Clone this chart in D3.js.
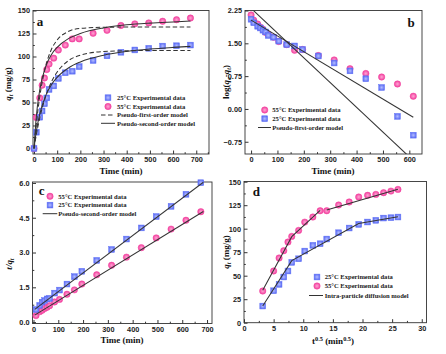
<!DOCTYPE html>
<html>
<head>
<meta charset="utf-8">
<script src="https://cdn.jsdelivr.net/npm/d3@7"></script>
<style>
  body { margin: 0; background: #fff; }
  svg { display: block; font-family: 'Liberation Serif', 'Times New Roman', serif; font-weight: bold; }
</style>
</head>
<body>
<div id="container"></div>
<script>
//### DATA ###
//>>> Contact time (min) and uptake q_t (mg/g)
const timeMin = [ 0, 10, 25, 35, 45, 55, 65, 85, 105, 135, 165, 195, 255, 315, 375, 435, 495, 555, 615, 675 ];
const qt25 = [ 0, 17.7, 34.0, 40.8, 48.6, 55.0, 64.2, 68.0, 76.2, 82.3, 84.0, 89.0, 95.7, 100.7, 104.6, 107.1, 108.9, 111.3, 111.7, 112.4 ];
const qt55 = [ 0, 33.7, 55.0, 68.8, 76.6, 85.8, 91.8, 98.2, 107.0, 112.4, 119.1, 119.1, 125.2, 128.4, 133.7, 135.5, 136.5, 138.3, 140.0, 141.8 ];

//>>> Panel a model curves
const fitTime = [ 0, 10, 25, 50, 75, 100, 150, 200, 300, 400, 500, 600, 675 ];
const pfo25 = [ 0, 14.9, 33.3, 56.3, 72.3, 83.1, 95.7, 101.4, 105.4, 106.2, 106.5, 106.5, 106.5 ];
const pso25 = [ 0, 18.5, 37.5, 57.2, 69.3, 77.4, 87.8, 94.1, 101.4, 105.5, 108.1, 109.9, 111.0 ];
const pfo55 = [ 0, 26.5, 56.6, 88.9, 107.6, 117.9, 127.4, 130.5, 131.8, 132.0, 132.0, 132.0, 132.0 ];
const pso55 = [ 0, 34.8, 64.0, 88.8, 102.0, 110.0, 119.7, 125.0, 131.0, 134.4, 136.3, 137.6, 138.5 ];

//>>> Panel b: log(qe - qt)
const timeLog = [ 0, 10, 25, 35, 45, 55, 65, 85, 105, 135, 165, 195, 255, 315, 375, 435, 495, 555, 615 ];
const log25 = [ 2.05, 1.97, 1.89, 1.85, 1.80, 1.76, 1.68, 1.64, 1.55, 1.47, 1.44, 1.36, 1.21, 1.05, 0.87, 0.69, 0.49, -0.17, -0.60 ];
const log55 = [ 2.15, 2.03, 1.94, 1.87, 1.82, 1.75, 1.70, 1.64, 1.54, 1.47, 1.34, 1.36, 1.22, 1.12, 0.92, 0.81, 0.73, 0.57, 0.29 ];
const logLineT = [ 0, 615 ];
const logLine55 = [ 2.03, -0.19 ];
const logLine25 = [ 2.30, -1.18 ];

//>>> Panel c: t/qt
const timeRatio = [ 10, 25, 35, 45, 55, 65, 85, 105, 135, 165, 195, 255, 315, 375, 435, 495, 555, 615, 675 ];
const ratio25 = [ 0.54, 0.72, 0.86, 0.93, 1.00, 1.02, 1.25, 1.38, 1.64, 1.96, 2.19, 2.66, 3.13, 3.58, 4.06, 4.55, 4.99, 5.51, 6.01 ];
const ratio55 = [ 0.28, 0.45, 0.51, 0.59, 0.64, 0.71, 0.87, 0.98, 1.20, 1.39, 1.64, 2.04, 2.45, 2.80, 3.21, 3.63, 4.01, 4.39, 4.76 ];
const ratioLineT = [ 5, 685 ];
const ratioLine25 = [ 0.55, 6.03 ];
const ratioLine55 = [ 0.30, 4.77 ];

//>>> Panel d: qt vs t^0.5
const sqrtTime = [ 3.16, 5.00, 5.92, 6.71, 7.42, 8.06, 9.22, 10.25, 11.62, 12.85, 13.96, 15.97, 17.75, 19.36, 20.86, 22.25, 23.56, 24.80, 25.98 ];
const ipd25X = [ 3.16, 8.06, 19.36, 25.98 ];
const ipd25Y = [ 17.7, 66.0, 105.5, 112.8 ];
const ipd55aX = [ 3.16, 8.06, 12.85 ];
const ipd55aY = [ 34.5, 91.5, 119.5 ];
const ipd55bX = [ 13.96, 25.98 ];
const ipd55bY = [ 120.0, 142.0 ];

//>>> Legend labels
const legendA = [ '25°C Experimental data', '55°C Experimental data', 'Pseudo-first-order model', 'Pseudo-second-order model' ];
const legendB = [ '55°C Experimental data', '25°C Experimental data', 'Pseudo-first-order model' ];
const legendC = [ '55°C Experimental data', '25°C Experimental data', 'Pseudo-second-order model' ];
const legendD = [ '25°C Experimental data', '55°C Experimental data', 'Intra-particle diffusion model' ];


//### SETUP ###
const width = 446;
const height = 354;
const lineColor = '#333';
const blue = '#5f70f5';
const pink = '#f2409e';

const svg = d3.select( '#container' )
  .append( 'svg' )
  .attr( 'width', width )
  .attr( 'height', height );

//>>> Gradients for the markers
const defs = svg.append( 'defs' );
[ [ 'gradBlue', '#b4bdff', blue ], [ 'gradPink', '#ffa6d4', pink ] ].forEach( ( [ id, c0, c1 ] ) => {
  const g = defs.append( 'radialGradient' ).attr( 'id', id );
  g.append( 'stop' ).attr( 'offset', '0%' ).attr( 'stop-color', c0 );
  g.append( 'stop' ).attr( 'offset', '100%' ).attr( 'stop-color', c1 );
} );

const zip = ( xs, ys ) => xs.map( ( v, i ) => [ v, ys[ i ] ] );

//>>> Text with italic / sub / sup parts
function richText ( sel, parts ) {
  let shift = 0;
  parts.forEach( p => {
    const s = p.sub ? 2 : p.sup ? -3.5 : 0;
    const t = sel.append( 'tspan' ).text( p.t ).attr( 'dy', s - shift );
    if ( p.it ) t.style( 'font-style', 'italic' );
    if ( p.sub || p.sup ) t.style( 'font-size', '0.7em' );
    shift = s;
  } );
}


//### PANEL BUILDER ###
function makePanel ( o ) {
  const b = o.box;
  const g = svg.append( 'g' );
  const x = d3.scaleLinear().domain( o.xDomain ).range( [ b.left, b.right ] );
  const y = d3.scaleLinear().domain( o.yDomain ).range( [ b.bottom, b.top ] );

  //>>> Minor ticks
  g.append( 'g' ).attr( 'transform', `translate(0,${b.bottom})` )
    .call( d3.axisBottom( x ).tickValues( o.xMinor ).tickSize( -1.8 ).tickFormat( '' ) );
  g.append( 'g' ).attr( 'transform', `translate(${b.left},0)` )
    .call( d3.axisLeft( y ).tickValues( o.yMinor ).tickSize( -1.8 ).tickFormat( '' ) );

  //>>> Major ticks
  g.append( 'g' ).attr( 'transform', `translate(0,${b.bottom})` )
    .call( d3.axisBottom( x ).tickValues( o.xTicks ).tickSize( -3.5 ).tickPadding( 3 ).tickFormat( o.xFormat || d3.format( 'd' ) ) );
  g.append( 'g' ).attr( 'transform', `translate(${b.left},0)` )
    .call( d3.axisLeft( y ).tickValues( o.yTicks ).tickSize( -3.5 ).tickPadding( 3 ).tickFormat( o.yFormat || d3.format( 'd' ) ) );

  g.selectAll( '.domain' ).remove();
  g.selectAll( '.tick line' ).attr( 'stroke', lineColor );
  g.selectAll( '.tick text' )
    .attr( 'fill', '#222' )
    .style( 'font-size', '7.3px' );

  //>>> Frame
  g.append( 'rect' )
    .attr( 'x', b.left ).attr( 'y', b.top )
    .attr( 'width', b.right - b.left ).attr( 'height', b.bottom - b.top )
    .attr( 'fill', 'none' ).attr( 'stroke', lineColor ).attr( 'stroke-width', 0.9 );

  //>>> Panel letter
  g.append( 'text' )
    .attr( 'x', o.letter[ 1 ] ).attr( 'y', o.letter[ 2 ] )
    .attr( 'text-anchor', 'middle' ).attr( 'dominant-baseline', 'central' )
    .style( 'font-size', '13px' ).attr( 'fill', '#111' )
    .text( o.letter[ 0 ] );

  //>>> Axis titles
  const xt = g.append( 'text' )
    .attr( 'x', o.xTitlePos[ 0 ] ).attr( 'y', o.xTitlePos[ 1 ] )
    .attr( 'text-anchor', 'middle' ).style( 'font-size', '9px' ).attr( 'fill', '#111' );
  richText( xt, o.xTitle );
  const yt = g.append( 'text' )
    .attr( 'transform', `translate(${o.yTitlePos[ 0 ]},${o.yTitlePos[ 1 ]}) rotate(-90)` )
    .attr( 'text-anchor', 'middle' ).style( 'font-size', '9px' ).attr( 'fill', '#111' );
  richText( yt, o.yTitle );

  return { g, x, y, box: b };
}

function drawMarkers ( p, pts, kind ) {
  const sel = p.g.append( 'g' );
  if ( kind === 'circle' ) {
    sel.selectAll( 'circle' ).data( pts ).enter().append( 'circle' )
      .attr( 'cx', d => p.x( d[ 0 ] ) ).attr( 'cy', d => p.y( d[ 1 ] ) )
      .attr( 'r', 3.2 )
      .attr( 'fill', 'url(#gradPink)' ).attr( 'stroke', pink ).attr( 'stroke-width', 0.5 );
  } else {
    sel.selectAll( 'rect' ).data( pts ).enter().append( 'rect' )
      .attr( 'x', d => p.x( d[ 0 ] ) - 2.9 ).attr( 'y', d => p.y( d[ 1 ] ) - 2.9 )
      .attr( 'width', 5.8 ).attr( 'height', 5.8 )
      .attr( 'fill', 'url(#gradBlue)' ).attr( 'stroke', blue ).attr( 'stroke-width', 0.5 );
  }
}

function drawLegend ( p, labels, kinds, lg ) {
  const g = p.g.append( 'g' );
  labels.forEach( ( label, i ) => {
    const yy = lg.rows[ i ];
    const k = kinds[ i ];
    if ( k === 'circle' ) {
      g.append( 'circle' ).attr( 'cx', lg.mark ).attr( 'cy', yy ).attr( 'r', 3.2 )
        .attr( 'fill', 'url(#gradPink)' ).attr( 'stroke', pink ).attr( 'stroke-width', 0.5 );
    } else if ( k === 'square' ) {
      g.append( 'rect' ).attr( 'x', lg.mark - 2.9 ).attr( 'y', yy - 2.9 ).attr( 'width', 5.8 ).attr( 'height', 5.8 )
        .attr( 'fill', 'url(#gradBlue)' ).attr( 'stroke', blue ).attr( 'stroke-width', 0.5 );
    } else {
      g.append( 'line' ).attr( 'x1', lg.line[ 0 ] ).attr( 'x2', lg.line[ 1 ] ).attr( 'y1', yy ).attr( 'y2', yy )
        .attr( 'stroke', lineColor ).attr( 'stroke-width', 1 )
        .attr( 'stroke-dasharray', k === 'dash' ? '4.5,2.5' : 'none' );
    }
    g.append( 'text' ).attr( 'x', lg.text ).attr( 'y', yy ).attr( 'dy', '0.35em' )
      .style( 'font-size', '6.6px' ).attr( 'fill', '#222' ).text( label );
  } );
}


//### BUILD THE FOUR FRAMES ###
const timeTitle = [ { t: 'Time (min)' } ];
const qtTitle = [ { t: 'q', it: true }, { t: 't', it: true, sub: true }, { t: ' (mg/g)' } ];

const pa = makePanel( {
  box: { left: 33, right: 209, top: 10.5, bottom: 154 },
  xDomain: [ -4.3, 755 ], yDomain: [ -6, 150 ],
  xTicks: d3.range( 0, 701, 100 ), xMinor: d3.range( 50, 751, 100 ),
  yTicks: d3.range( 0, 151, 25 ), yMinor: d3.range( 12.5, 150, 25 ),
  letter: [ 'a', 40, 21 ], xTitlePos: [ 121, 174 ], yTitlePos: [ 11, 84 ],
  xTitle: timeTitle, yTitle: qtTitle
} );

const pb = makePanel( {
  box: { left: 245, right: 422, top: 10.5, bottom: 154 },
  xDomain: [ -23, 648 ], yDomain: [ -1.03, 2.25 ],
  xTicks: d3.range( 0, 601, 100 ), xMinor: d3.range( 50, 641, 100 ),
  yTicks: [ -0.75, 0, 0.75, 1.5, 2.25 ], yMinor: [ -0.375, 0.375, 1.125, 1.875 ],
  yFormat: d3.format( '.2f' ),
  letter: [ 'b', 411, 22 ], xTitlePos: [ 333, 174 ], yTitlePos: [ 229, 82 ],
  xTitle: timeTitle,
  yTitle: [ { t: 'log(' }, { t: 'q', it: true }, { t: 'e', it: true, sub: true }, { t: '-' },
    { t: 'q', it: true }, { t: 't', it: true, sub: true }, { t: ')' } ]
} );

const pc = makePanel( {
  box: { left: 32.5, right: 212, top: 182, bottom: 323.5 },
  xDomain: [ -4, 720 ], yDomain: [ -0.06, 6.04 ],
  xTicks: d3.range( 0, 701, 100 ), xMinor: d3.range( 50, 701, 100 ),
  yTicks: [ 0, 1.5, 3, 4.5, 6 ], yMinor: [ 0.75, 2.25, 3.75, 5.25 ],
  yFormat: d3.format( '.1f' ),
  letter: [ 'c', 41.7, 190 ], xTitlePos: [ 122, 343 ], yTitlePos: [ 12, 264 ],
  xTitle: timeTitle,
  yTitle: [ { t: 't/q', it: true }, { t: 't', it: true, sub: true } ]
} );

const pd = makePanel( {
  box: { left: 244, right: 426.5, top: 181.5, bottom: 322.7 },
  xDomain: [ 0, 30.8 ], yDomain: [ 0, 150.2 ],
  xTicks: d3.range( 0, 31, 5 ), xMinor: d3.range( 2.5, 30, 5 ),
  yTicks: d3.range( 0, 151, 25 ), yMinor: d3.range( 12.5, 150, 25 ),
  letter: [ 'd', 256.3, 191 ], xTitlePos: [ 333, 344 ], yTitlePos: [ 229, 252 ],
  xTitle: [ { t: 't' }, { t: '0.5', sup: true }, { t: ' (min' }, { t: '0.5', sup: true }, { t: ')' } ],
  yTitle: qtTitle
} );


//### MARKERS ###
drawMarkers( pa, zip( timeMin, qt55 ), 'circle' );
drawMarkers( pa, zip( timeMin, qt25 ), 'square' );
drawMarkers( pb, zip( timeLog, log55 ), 'circle' );
drawMarkers( pb, zip( timeLog, log25 ), 'square' );
drawMarkers( pc, zip( timeRatio, ratio55 ), 'circle' );
drawMarkers( pc, zip( timeRatio, ratio25 ), 'square' );
drawMarkers( pd, zip( sqrtTime, qt55.slice( 1 ) ), 'circle' );
drawMarkers( pd, zip( sqrtTime, qt25.slice( 1 ) ), 'square' );


//### LEGENDS ###
drawLegend( pa, legendA, [ 'square', 'circle', 'dash', 'solid' ],
  { mark: 108, text: 117, line: [ 101, 115 ], rows: [ 97.7, 106.5, 115, 123.3 ] } );
drawLegend( pb, legendB, [ 'circle', 'square', 'solid' ],
  { mark: 264.7, text: 272.3, line: [ 258, 271 ], rows: [ 110, 118.7, 127.5 ] } );
drawLegend( pc, legendC, [ 'circle', 'square', 'solid' ],
  { mark: 50, text: 58.3, line: [ 42.7, 57.3 ], rows: [ 196.3, 205.1, 213.7 ] } );
drawLegend( pd, legendD, [ 'square', 'circle', 'solid' ],
  { mark: 317, text: 324.7, line: [ 309, 323 ], rows: [ 277, 286, 295.5 ] } );


//### MODEL LINES (top layer) ###
//>>> Each entry: panel, points, dashed?, smooth?
const modelLines = [
  [ pa, zip( fitTime, pfo25 ), true, true ],
  [ pa, zip( fitTime, pfo55 ), true, true ],
  [ pa, zip( fitTime, pso25 ), false, true ],
  [ pa, zip( fitTime, pso55 ), false, true ],
  [ pb, zip( logLineT, logLine55 ), false, false ],
  [ pb, zip( logLineT, logLine25 ), false, false ],
  [ pc, zip( ratioLineT, ratioLine25 ), false, false ],
  [ pc, zip( ratioLineT, ratioLine55 ), false, false ],
  [ pd, zip( ipd25X, ipd25Y ), false, false ],
  [ pd, zip( ipd55aX, ipd55aY ), false, false ],
  [ pd, zip( ipd55bX, ipd55bY ), false, false ]
];

//>>> One clip rect per panel so the steep fit in b stops at the frame
[ pa, pb, pc, pd ].forEach( ( p, i ) => {
  defs.append( 'clipPath' ).attr( 'id', 'frame' + i )
    .append( 'rect' )
    .attr( 'x', p.box.left ).attr( 'y', p.box.top )
    .attr( 'width', p.box.right - p.box.left ).attr( 'height', p.box.bottom - p.box.top );
  p.clipId = 'frame' + i;
} );

const lineLayer = svg.append( 'g' ).attr( 'class', 'model-lines' );
modelLines.forEach( ( [ p, pts, dashed, smooth ] ) => {
  const line = d3.line()
    .x( d => p.x( d[ 0 ] ) ).y( d => p.y( d[ 1 ] ) )
    .curve( smooth ? d3.curveMonotoneX : d3.curveLinear );
  lineLayer.append( 'g' ).attr( 'clip-path', `url(#${p.clipId})` )
    .append( 'path' )
    .attr( 'd', line( pts ) )
    .attr( 'fill', 'none' )
    .attr( 'stroke', lineColor )
    .attr( 'stroke-width', 1.05 )
    .attr( 'stroke-dasharray', dashed ? '4.5,2.5' : 'none' );
} );
</script>
</body>
</html>
